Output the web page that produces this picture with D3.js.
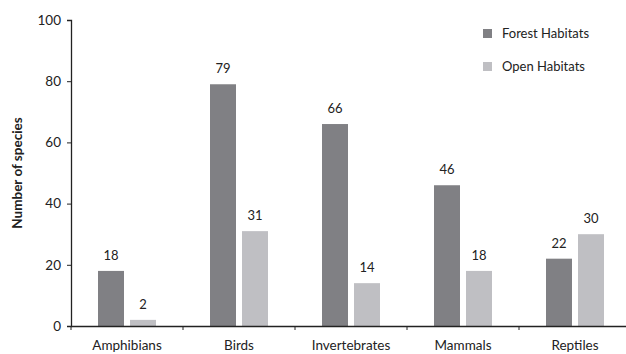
<!DOCTYPE html>
<html>
<head>
<meta charset="utf-8">
<script src="https://cdn.jsdelivr.net/npm/d3@7"></script>
<style>
  body { margin: 0; background: #fff; }
</style>
</head>
<body>
<div id="chart"></div>
<script>
// дані з графіка
const categories = ["Amphibians", "Birds", "Invertebrates", "Mammals", "Reptiles"];
const seriesNames = ["Forest Habitats", "Open Habitats"];
const forestValues = [18, 79, 66, 46, 22];
const openValues = [2, 31, 14, 18, 30];
const yTicks = [0, 20, 40, 60, 80, 100];

const width = 626, height = 354;
const margin = { top: 20, right: -5, bottom: 28, left: 71 };
const colors = { forest: "#808084", open: "#bfbfc3", text: "#222" };
const font = "Lato, 'Open Sans', sans-serif";

const svg = d3.select("#chart").append("svg")
    .attr("width", width)
    .attr("height", height)
    .style("display", "block")
    .style("font-family", font);

const x = d3.scaleBand()
    .domain(categories)
    .range([margin.left, width - margin.right])
    .paddingInner(0)
    .paddingOuter(0);

const y = d3.scaleLinear()
    .domain([0, 100])
    .range([height - margin.bottom, margin.top]);

const sub = d3.scaleBand()
    .domain(seriesNames)
    .range([0, 58])
    .paddingInner(6 / 32);

const rows = categories.map((c, i) => ({
    cat: c,
    vals: [
        { name: seriesNames[0], value: forestValues[i], color: colors.forest },
        { name: seriesNames[1], value: openValues[i], color: colors.open }
    ]
}));

// стовпчики
const group = svg.append("g").selectAll("g")
    .data(rows)
    .join("g")
    .attr("transform", d => `translate(${x(d.cat) + x.bandwidth() / 2 - 29},0)`);

group.selectAll("rect")
    .data(d => d.vals)
    .join("rect")
    .attr("x", d => sub(d.name))
    .attr("y", d => y(d.value))
    .attr("width", sub.bandwidth())
    .attr("height", d => y(0) - y(d.value))
    .attr("fill", d => d.color);

group.selectAll("text")
    .data(d => d.vals)
    .join("text")
    .attr("x", d => sub(d.name) + sub.bandwidth() / 2)
    .attr("y", d => y(d.value) - 11)
    .attr("text-anchor", "middle")
    .style("font-size", "13px")
    .style("fill", colors.text)
    .text(d => d.value);

// осі
const yAxis = svg.append("g")
    .attr("transform", `translate(${margin.left},0)`)
    .call(d3.axisLeft(y).tickValues(yTicks).tickSize(4).tickPadding(6));

const xAxis = svg.append("g")
    .attr("transform", `translate(0,${y(0)})`)
    .call(d3.axisBottom(x).tickSize(0).tickPadding(14));

// тики між категоріями
xAxis.selectAll(".sep")
    .data(categories)
    .join("line")
    .attr("class", "sep")
    .attr("x1", d => x(d)).attr("x2", d => x(d))
    .attr("y1", 0).attr("y2", 4)
    .attr("stroke", colors.text);

svg.selectAll(".domain").attr("stroke", colors.text).attr("stroke-width", 1.3);
svg.selectAll(".tick line").attr("stroke", colors.text);
svg.selectAll(".tick text")
    .style("font-family", font)
    .style("font-size", "13.5px")
    .style("fill", colors.text);

// підпис осі Y
svg.append("text")
    .attr("transform", `translate(22,${(y(0) + y(100)) / 2}) rotate(-90)`)
    .attr("text-anchor", "middle")
    .style("font-size", "13.5px")
    .style("font-weight", "bold")
    .style("fill", colors.text)
    .text("Number of species");

// легенда
const legend = svg.append("g")
    .attr("transform", "translate(483,29)")
    .selectAll("g")
    .data(seriesNames)
    .join("g")
    .attr("transform", (d, i) => `translate(0,${i * 33})`);

legend.append("rect")
    .attr("width", 9).attr("height", 9)
    .attr("fill", (d, i) => i === 0 ? colors.forest : colors.open);

legend.append("text")
    .attr("x", 19).attr("y", 9)
    .style("font-size", "13px")
    .style("fill", colors.text)
    .text(d => d);
</script>
</body>
</html>
